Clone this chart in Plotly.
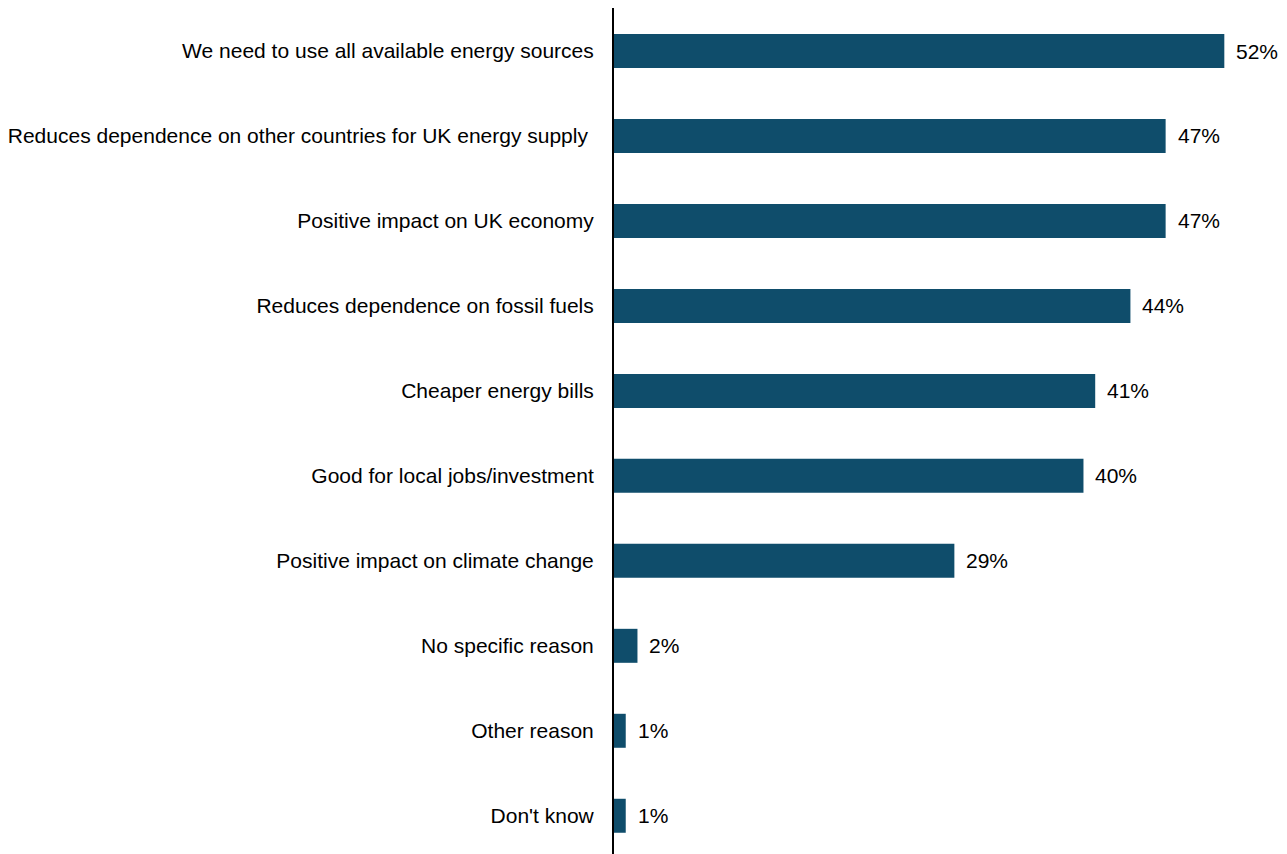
import plotly.graph_objects as go

# Survey responses: reasons for support (percentage of respondents)
reasons = [
    "We need to use all available energy sources",
    "Reduces dependence on other countries for UK energy supply ",
    "Positive impact on UK economy",
    "Reduces dependence on fossil fuels",
    "Cheaper energy bills",
    "Good for local jobs/investment",
    "Positive impact on climate change",
    "No specific reason",
    "Other reason",
    "Don't know",
]
shares = [52, 47, 47, 44, 41, 40, 29, 2, 1, 1]

BAR_COLOR = "#0F4D6B"
FONT = "Liberation Sans, Arial, sans-serif"
FONT_SIZE = 21

fig = go.Figure(
    go.Bar(
        x=shares,
        y=reasons,
        orientation="h",
        marker=dict(color=BAR_COLOR, line=dict(width=0)),
        hoverinfo="skip",
    )
)

# Value labels just past the end of each bar
for r, v in zip(reasons, shares):
    fig.add_annotation(
        x=v, y=r, text=f"{v}%", showarrow=False,
        xanchor="left", yanchor="middle", xshift=10,
        font=dict(family=FONT, size=FONT_SIZE, color="#000000"),
    )

fig.update_layout(
    width=1287, height=854,
    margin=dict(l=614, r=4, t=8, b=0),
    paper_bgcolor="white", plot_bgcolor="white",
    bargap=0.6,
    showlegend=False,
    font=dict(family=FONT, size=FONT_SIZE, color="#000000"),
)
fig.update_xaxes(
    range=[0, 57], visible=False, showgrid=False, zeroline=False,
)
fig.update_yaxes(
    categoryorder="array", categoryarray=reasons,
    range=[9.45, -0.506],
    showline=True, linecolor="#000000", linewidth=2,
    showgrid=False, zeroline=False, ticks="",
    ticklabelstandoff=14,
    tickfont=dict(family=FONT, size=FONT_SIZE, color="#000000"),
)

fig.write_html("out.html")
